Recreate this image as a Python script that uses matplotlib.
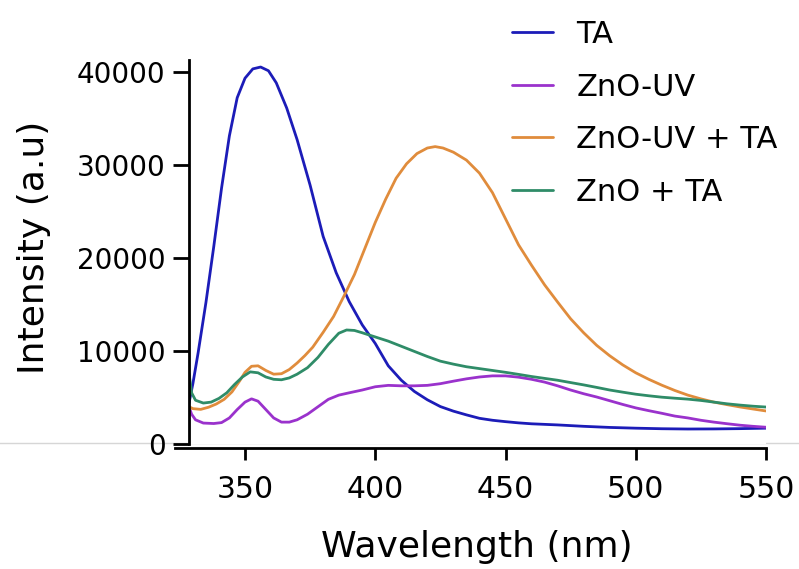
import matplotlib
matplotlib.use("Agg")
import matplotlib.pyplot as plt
from matplotlib.lines import Line2D

plt.rcParams['font.family'] = ['DejaVu Sans']

# ---------------- data ----------------
wl_ta = [328.5, 330, 332, 335, 338, 341, 344, 347, 350, 353, 356, 359, 362, 366, 370, 375,
         380, 385, 390, 395, 400, 405, 410, 415, 420, 425, 430, 435, 440, 445, 450, 455,
         460, 470, 480, 490, 500, 510, 520, 530, 540, 550]
ta = [4400, 6500, 9800, 15200, 21200, 27500, 33100, 37200, 39300, 40300, 40500, 40100, 38800,
      36100, 32700, 27800, 22300, 18400, 15300, 12800, 10800, 8400, 6850, 5650, 4750, 4020,
      3530, 3130, 2760, 2550, 2400, 2270, 2170, 2050, 1900, 1780, 1700, 1640, 1610, 1620,
      1650, 1700]

wl_uv = [328.5, 329.5, 331, 334, 338, 341, 344, 347, 350, 352.5, 355, 358, 361, 364, 367, 370,
         374, 378, 382, 386, 390, 395, 400, 405, 410, 415, 420, 425, 430, 435, 440, 445, 450,
         455, 460, 465, 470, 475, 480, 485, 490, 495, 500, 505, 510, 515, 520, 525, 530, 535,
         540, 545, 550]
zno_uv = [4000, 3200, 2600, 2250, 2200, 2300, 2800, 3700, 4500, 4850, 4600, 3700, 2800, 2350,
          2350, 2600, 3200, 4000, 4800, 5250, 5500, 5800, 6150, 6300, 6250, 6250, 6300, 6480,
          6750, 7000, 7200, 7320, 7320, 7180, 6950, 6650, 6250, 5800, 5400, 5050, 4650, 4250,
          3880, 3580, 3300, 3000, 2800, 2550, 2350, 2180, 2020, 1900, 1800]

wl_uvta = [328.5, 330, 333, 336, 339, 342, 345, 348, 350, 352.5, 355, 358, 361, 364, 367, 370,
           373, 376, 380, 384, 388, 392, 396, 400, 404, 408, 412, 416, 420, 423, 426, 430, 435,
           440, 445, 450, 455, 460, 465, 470, 475, 480, 485, 490, 495, 500, 505, 510, 515, 520,
           525, 530, 535, 540, 545, 550]
zno_uv_ta = [4000, 3800, 3720, 3950, 4300, 4800, 5600, 6800, 7700, 8350, 8400, 7900, 7500, 7550,
             8000, 8700, 9500, 10400, 12000, 13700, 15900, 18200, 21000, 23800, 26300, 28550,
             30100, 31200, 31800, 31950, 31800, 31350, 30500, 29100, 27000, 24200, 21400, 19200,
             17100, 15250, 13450, 11950, 10600, 9480, 8500, 7650, 6950, 6320, 5750, 5250, 4850,
             4500, 4230, 3980, 3760, 3550]

wl_znta = [328.5, 329.5, 331, 334, 337, 340, 343, 346, 349, 352, 355, 358, 361, 364, 367, 370,
           374, 378, 382, 386, 389, 392, 395, 400, 405, 410, 415, 420, 425, 430, 435, 440, 445,
           450, 455, 460, 465, 470, 475, 480, 485, 490, 495, 500, 505, 510, 515, 520, 525, 530,
           535, 540, 545, 550]
zno_ta = [7600, 5500, 4700, 4400, 4500, 4900, 5500, 6400, 7200, 7750, 7650, 7200, 6950, 6900,
          7100, 7500, 8200, 9300, 10700, 11900, 12250, 12200, 11950, 11500, 11050, 10500, 9950,
          9400, 8900, 8580, 8300, 8100, 7900, 7700, 7480, 7250, 7050, 6850, 6600, 6350, 6080,
          5800, 5570, 5350, 5180, 5030, 4920, 4820, 4680, 4500, 4320, 4180, 4060, 3970]

labels = ['TA', 'ZnO-UV', 'ZnO-UV + TA', 'ZnO + TA']
colors = ['#1c1cb8', '#9a32cc', '#e08c3c', '#2f8c68']
x_ticks = [350, 400, 450, 500, 550]
y_ticks = [0, 10000, 20000, 30000, 40000]

# ---------------- figure ----------------
W, H = 799, 569
fig = plt.figure(figsize=(W / 100, H / 100), dpi=100)
ax = fig.add_axes([189 / W, (H - 444) / H, (766 - 189) / W, (444 - 60) / H])

series = [(wl_ta, ta), (wl_uv, zno_uv), (wl_uvta, zno_uv_ta), (wl_znta, zno_ta)]
for (x, y), lab, c in zip(series, labels, colors):
    ax.plot(x, y, color=c, lw=2.0, label=lab, solid_capstyle='round',
            solid_joinstyle='round')

ax.set_xlim(328.5, 550)
ax.set_ylim(0, 41255)
ax.set_xticks(x_ticks)
ax.set_yticks(y_ticks)
ax.set_yticklabels([str(v) for v in y_ticks])

for s in ['top', 'right']:
    ax.spines[s].set_visible(False)
ax.spines['left'].set_linewidth(2)
ax.spines['bottom'].set_linewidth(2)
ax.spines['bottom'].set_position(('outward', 3))
ax.spines['bottom'].set_bounds(323.0, 550)

ax.tick_params(axis='y', length=11.5, width=2, pad=5.5, labelsize=20, color='black')
ax.tick_params(axis='x', length=8.5, width=2, pad=10.5, labelsize=21.5, color='black')

ax.set_xlabel('Wavelength (nm)', fontsize=26)
ax.set_ylabel('Intensity (a.u)', fontsize=26)
ax.xaxis.set_label_coords(0.4986, -0.2935)
ax.xaxis.label.set_va('baseline')
ax.yaxis.set_label_coords(-0.268, 0.512)
ax.yaxis.label.set_va('center')

leg = ax.legend(loc='upper left', bbox_to_anchor=(512 / W, 1 - 20 / H),
                bbox_transform=fig.transFigure, frameon=False, fontsize=22,
                handlelength=1.35, handletextpad=0.75, labelspacing=0.77,
                borderpad=0, borderaxespad=0)
for line in leg.get_lines():
    line.set_linewidth(2.0)

# light grey horizontal rule across the whole figure
fig.add_artist(Line2D([0, 1], [1 - 442.7 / H] * 2, transform=fig.transFigure,
                      color='#d6d6d6', lw=1, zorder=0))

fig.savefig('out.png', dpi=100)
